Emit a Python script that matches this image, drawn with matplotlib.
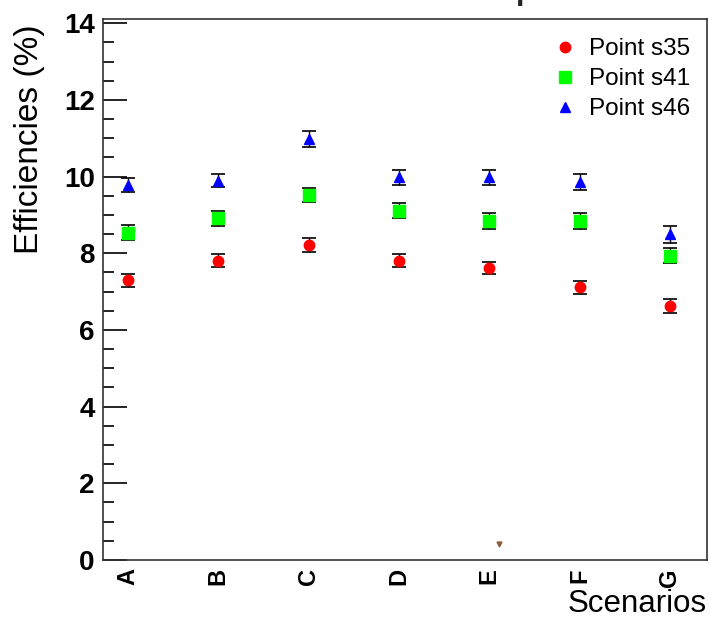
import matplotlib
matplotlib.use("Agg")
import matplotlib.pyplot as plt
from matplotlib.ticker import MultipleLocator

plt.rcParams['font.family'] = ['Liberation Sans', 'DejaVu Sans']

scenarios = ['A', 'B', 'C', 'D', 'E', 'F', 'G']

eff_s35 = [7.30, 7.81, 8.22, 7.81, 7.61, 7.11, 6.63]
err_s35 = [0.17, 0.17, 0.19, 0.17, 0.15, 0.17, 0.19]

eff_s41 = [8.54, 8.91, 9.52, 9.11, 8.84, 8.84, 7.94]
err_s41 = [0.19, 0.20, 0.19, 0.19, 0.20, 0.20, 0.19]

eff_s46 = [9.78, 9.89, 10.98, 9.98, 9.98, 9.87, 8.49]
err_s46 = [0.18, 0.17, 0.21, 0.19, 0.19, 0.21, 0.21]

# leftover point near the bottom of the frame
stray_x = [4.11]
stray_y = [0.42]

fig = plt.figure(figsize=(7.09, 6.18), dpi=100)
ax = fig.add_axes([103/709, 58/618, 604/709, 541/618])

x = list(range(len(scenarios)))

series = [
    (eff_s35, err_s35, 'o', '#ff0000', 7.5, 'Point s35'),
    (eff_s41, err_s41, 's', '#00ff00', 8.5, 'Point s41'),
    (eff_s46, err_s46, '^', '#0000ff', 7.5, 'Point s46'),
]
for vals, errs, mk, col, ms, lab in series:
    ax.errorbar(x, vals, yerr=errs, fmt='none', ecolor='black',
                elinewidth=1.0, capsize=5, capthick=1.2, zorder=2)
    ax.plot(x, vals, ls='none', marker=mk, color=col, ms=ms,
            mec=col, label=lab, zorder=3)

ax.plot(stray_x, stray_y, ls='none', marker='v', color='#8b5a3c', ms=3.5)

ax.set_xlim(-0.277, 6.41)
ax.set_ylim(0, 14.11)

ax.set_xticks(x)
ax.set_xticklabels(scenarios, rotation=90, fontsize=17, fontweight='bold')
ax.tick_params(axis='x', length=0, pad=6)

ax.yaxis.set_major_locator(MultipleLocator(2))
ax.yaxis.set_minor_locator(MultipleLocator(0.5))
ax.tick_params(axis='y', which='major', direction='in', length=17,
               width=1.2, labelsize=20, pad=6)
ax.tick_params(axis='y', which='minor', direction='in', length=8, width=1.2)
for lbl in ax.get_yticklabels():
    lbl.set_fontweight('bold')

for sp in ax.spines.values():
    sp.set_linewidth(1.2)
    sp.set_color('#333333')

fig.text(30/709, 1 - 24/618, 'Efficiencies (%)', rotation=90, ha='center',
         va='top', fontsize=24)
fig.text(707/709, 1 - 604/618, 'Scenarios', ha='right', va='center',
         fontsize=22.5)

# title sits mostly above the canvas edge
fig.text(480/709, 1.0 + 1/618, 'Total efficiencies per scenario',
         ha='center', va='baseline', fontsize=22, fontweight='bold',
         color='#222222')

ax.legend(loc='upper left', bbox_to_anchor=(553/709, 1 - 38/618),
          bbox_transform=fig.transFigure, frameon=False, fontsize=17.5,
          handlelength=1.0, handletextpad=0.5, labelspacing=0.33,
          borderaxespad=0, borderpad=0)

fig.savefig('out.png', dpi=100)
